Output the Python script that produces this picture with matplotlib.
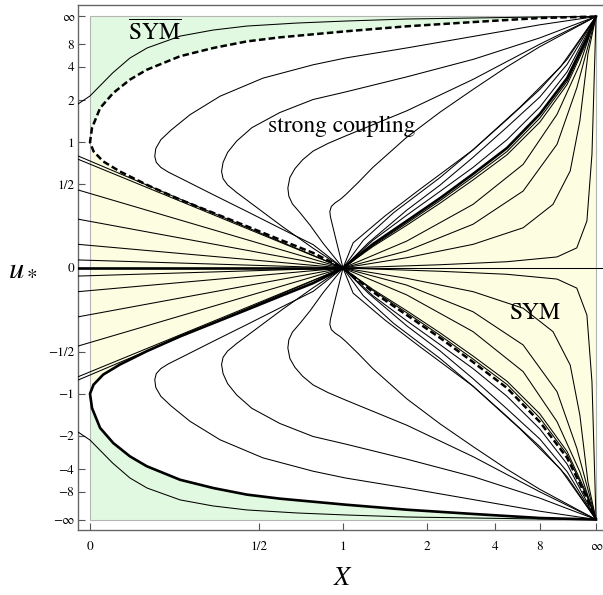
import numpy as np
import matplotlib.pyplot as plt
from matplotlib.patches import Rectangle

plt.rcParams['font.family'] = ['STIXGeneral', 'DejaVu Serif']
plt.rcParams['mathtext.fontset'] = 'stix'

# both axes are compactified: t = v / (1 + |v|)  (X: 0..inf -> 0..1, u*: -inf..inf -> -1..1)
x_ticks = [0, 1 / 3, 1 / 2, 2 / 3, 4 / 5, 8 / 9, 1]
x_labels = ['0', '1/2', '1', '2', '4', '8', '∞']
u_ticks = [1, 8 / 9, 4 / 5, 2 / 3, 1 / 2, 1 / 3, 0, -1 / 3, -1 / 2, -2 / 3, -4 / 5, -8 / 9, -1]
u_labels = ['∞', '8', '4', '2', '1', '1/2', '0', '−1/2', '−1', '−2', '−4', '−8', '−∞']

# curves of the upper half (compact coords); the lower half is the mirror u -> -u
# separatrix, drawn dashed here and solid bold in the mirror
dashed_upper_x = [0.0, 0.004, 0.020, 0.046, 0.079, 0.112, 0.178, 0.244, 0.310, 0.375, 0.505, 0.626, 0.758, 0.889, 1.0]
dashed_upper_u = [0.5, 0.557, 0.636, 0.696, 0.749, 0.788, 0.842, 0.875, 0.901, 0.917, 0.941, 0.961, 0.978, 0.994, 1.0]
dashed_lower_x = [0.0, 0.007, 0.026, 0.059, 0.112, 0.178, 0.244, 0.310, 0.375, 0.441, 0.5]
dashed_lower_u = [0.5, 0.464, 0.424, 0.384, 0.331, 0.272, 0.219, 0.166, 0.113, 0.060, 0.0]
dashed_right_x = [0.5, 0.559, 0.626, 0.692, 0.757, 0.824, 0.889, 0.943, 0.982, 1.0]
dashed_right_u = [0.0, -0.095, -0.187, -0.278, -0.374, -0.477, -0.612, -0.755, -0.915, -1.0]

# curve in the SYM-bar corner
sym_bar_x = [-0.023, 0.0, 0.045, 0.079, 0.113, 0.178, 0.243, 0.310, 0.409, 0.506, 0.626, 0.757, 0.889, 1.0]
sym_bar_u = [0.653, 0.684, 0.776, 0.835, 0.875, 0.922, 0.946, 0.962, 0.974, 0.982, 0.990, 0.994, 0.998, 1.0]

# strong coupling curves: corner -> turning point -> fixed point -> corner
strong_1_x = [1.0, 0.889, 0.758, 0.626, 0.505, 0.441, 0.342, 0.257, 0.198, 0.160, 0.140, 0.130, 0.128, 0.131,
              0.140, 0.155, 0.178, 0.244, 0.310, 0.375, 0.441, 0.5, 0.559, 0.626, 0.692, 0.757, 0.824, 0.889,
              0.943, 1.0]
strong_1_u = [1.0, 0.967, 0.921, 0.875, 0.835, 0.808, 0.755, 0.683, 0.610, 0.548, 0.510, 0.475, 0.444, 0.420,
              0.400, 0.381, 0.358, 0.291, 0.225, 0.159, 0.093, 0.0, -0.110, -0.210, -0.305, -0.400, -0.510,
              -0.640, -0.780, -1.0]
strong_2_x = [1.0, 0.889, 0.758, 0.626, 0.505, 0.441, 0.375, 0.320, 0.290, 0.272, 0.263, 0.260, 0.263, 0.272,
              0.290, 0.330, 0.380, 0.440, 0.5, 0.550, 0.626, 0.692, 0.757, 0.824, 0.889, 0.943, 1.0]
strong_2_u = [1.0, 0.915, 0.830, 0.760, 0.700, 0.670, 0.618, 0.558, 0.505, 0.460, 0.420, 0.384, 0.355, 0.330,
              0.300, 0.240, 0.165, 0.080, 0.0, -0.100, -0.230, -0.330, -0.440, -0.560, -0.680, -0.810, -1.0]
strong_3_x = [1.0, 0.889, 0.757, 0.626, 0.505, 0.470, 0.441, 0.420, 0.405, 0.395, 0.391, 0.393, 0.400, 0.415,
              0.435, 0.460, 0.480, 0.5, 0.540, 0.600, 0.692, 0.757, 0.824, 0.889, 0.943, 1.0]
strong_3_u = [1.0, 0.890, 0.750, 0.625, 0.525, 0.495, 0.465, 0.430, 0.395, 0.360, 0.318, 0.285, 0.255, 0.220,
              0.170, 0.100, 0.050, 0.0, -0.110, -0.220, -0.360, -0.470, -0.590, -0.710, -0.830, -1.0]
strong_4_x = [1.0, 0.889, 0.824, 0.757, 0.692, 0.626, 0.559, 0.530, 0.505, 0.494, 0.485, 0.477, 0.474, 0.475,
              0.478, 0.484, 0.492, 0.5, 0.520, 0.583, 0.650, 0.757, 0.850, 0.930, 1.0]
strong_4_u = [1.0, 0.880, 0.800, 0.710, 0.620, 0.520, 0.400, 0.340, 0.291, 0.272, 0.260, 0.245, 0.225, 0.205,
              0.180, 0.130, 0.065, 0.0, -0.100, -0.207, -0.310, -0.470, -0.640, -0.800, -1.0]

# lines of the SYM wedge: left edge -> fixed point -> lower right corner
wedge_1_x = [-0.023, 0.5, 0.692, 0.824, 0.923, 0.962, 0.982, 0.992, 1.0]
wedge_1_u = [0.032, 0.0, -0.013, -0.025, -0.044, -0.080, -0.187, -0.453, -1.0]
wedge_2_x = [-0.023, 0.5, 0.626, 0.757, 0.856, 0.915, 0.949, 0.968, 0.984, 1.0]
wedge_2_u = [0.094, 0.0, -0.041, -0.094, -0.160, -0.253, -0.386, -0.584, -0.850, -1.0]
wedge_3_x = [-0.023, 0.5, 0.626, 0.757, 0.856, 0.923, 0.962, 1.0]
wedge_3_u = [0.194, 0.0, -0.068, -0.174, -0.306, -0.492, -0.716, -1.0]
wedge_4_x = [-0.023, 0.5, 0.626, 0.757, 0.856, 0.923, 0.968, 1.0]
wedge_4_u = [0.310, 0.0, -0.107, -0.253, -0.412, -0.611, -0.810, -1.0]
wedge_5_x = [-0.023, 0.5, 0.559, 0.626, 0.692, 0.757, 0.824, 0.889, 0.943, 0.982, 1.0]
wedge_5_u = [0.432, 0.0, -0.085, -0.170, -0.258, -0.350, -0.450, -0.580, -0.730, -0.900, -1.0]
wedge_6_x = [-0.023, 0.5, 0.559, 0.626, 0.692, 0.757, 0.824, 0.889, 0.943, 0.982, 1.0]
wedge_6_u = [0.445, 0.0, -0.089, -0.178, -0.268, -0.362, -0.463, -0.596, -0.742, -0.908, -1.0]

thin_curves = [
    (sym_bar_x, sym_bar_u),
    (strong_1_x, strong_1_u), (strong_2_x, strong_2_u),
    (strong_3_x, strong_3_u), (strong_4_x, strong_4_u),
    (wedge_1_x, wedge_1_u), (wedge_2_x, wedge_2_u), (wedge_3_x, wedge_3_u),
    (wedge_4_x, wedge_4_u), (wedge_5_x, wedge_5_u), (wedge_6_x, wedge_6_u),
]

green = '#e2f9e1'
yellow = '#fdfde1'

fig = plt.figure(figsize=(6.03, 5.95), dpi=100)
ax = fig.add_axes([78.3 / 603, 65 / 595, (603 - 78.3) / 603, (530 - 4.7) / 595])

# shaded phases
ax.fill_between(dashed_upper_x, dashed_upper_u, 1, color=green, lw=0, zorder=0)
ax.fill_between(dashed_upper_x, -1, -np.array(dashed_upper_u), color=green, lw=0, zorder=0)
ax.fill_between(dashed_lower_x, -np.array(dashed_lower_u), dashed_lower_u, color=yellow, lw=0, zorder=0)
ax.fill_between(dashed_right_x, dashed_right_u, -np.array(dashed_right_u), color=yellow, lw=0, zorder=0)
ax.add_patch(Rectangle((0, -1), 1, 2, fill=False, ec='#b4b4b4', lw=0.8, zorder=1))

for xs, us in thin_curves:
    ax.plot(xs, us, color='black', lw=0.75, zorder=3)
    ax.plot(xs, -np.array(us), color='black', lw=0.75, zorder=3)

sep_x = dashed_upper_x[::-1] + dashed_lower_x[1:] + dashed_right_x[1:]
sep_u = np.array(dashed_upper_u[::-1] + dashed_lower_u[1:] + dashed_right_u[1:])
ax.plot(sep_x, sep_u, color='black', lw=1.8, ls=(0, (2.6, 1.3)), zorder=4)
ax.plot(sep_x, -sep_u, color='black', lw=1.9, zorder=4)

# u* = 0 line
ax.plot([-0.023, 0.5], [0, 0], color='black', lw=1.9, zorder=4)
ax.plot([0.5, 1.0138], [0, 0], color='black', lw=0.75, zorder=4)

ax.text(0.4966, 0.5646, 'strong coupling', fontsize=17, ha='center', va='center', zorder=5)
ax.text(0.128, 0.934, r'$\overline{\mathrm{SYM}}$', fontsize=17, ha='center', va='center', zorder=5)
ax.text(0.879, -0.179, 'SYM', fontsize=17, ha='center', va='center', zorder=5)

ax.set_xlim(-0.0231, 1.0138)
ax.set_ylim(-1.0417, 1.0469)
ax.set_xticks(x_ticks)
ax.set_xticklabels(x_labels)
ax.set_yticks(u_ticks)
ax.set_yticklabels(u_labels)
ax.tick_params(direction='in', length=5, width=0.8, color='#555555', labelsize=9.5, pad=3)
ax.tick_params(axis='x', pad=8)
ax.tick_params(top=False, right=False)
ax.spines['right'].set_visible(False)
for s in ['left', 'bottom', 'top']:
    ax.spines[s].set_color('#666666')
    ax.spines[s].set_linewidth(1.0)

fig.text(343 / 603, 1 - 579 / 595, r'$X$', fontsize=19, ha='center', va='center')
fig.text(23 / 603, 1 - 268 / 595, r'$u_*$', fontsize=22, ha='center', va='center')

fig.savefig('out.png', dpi=100)
